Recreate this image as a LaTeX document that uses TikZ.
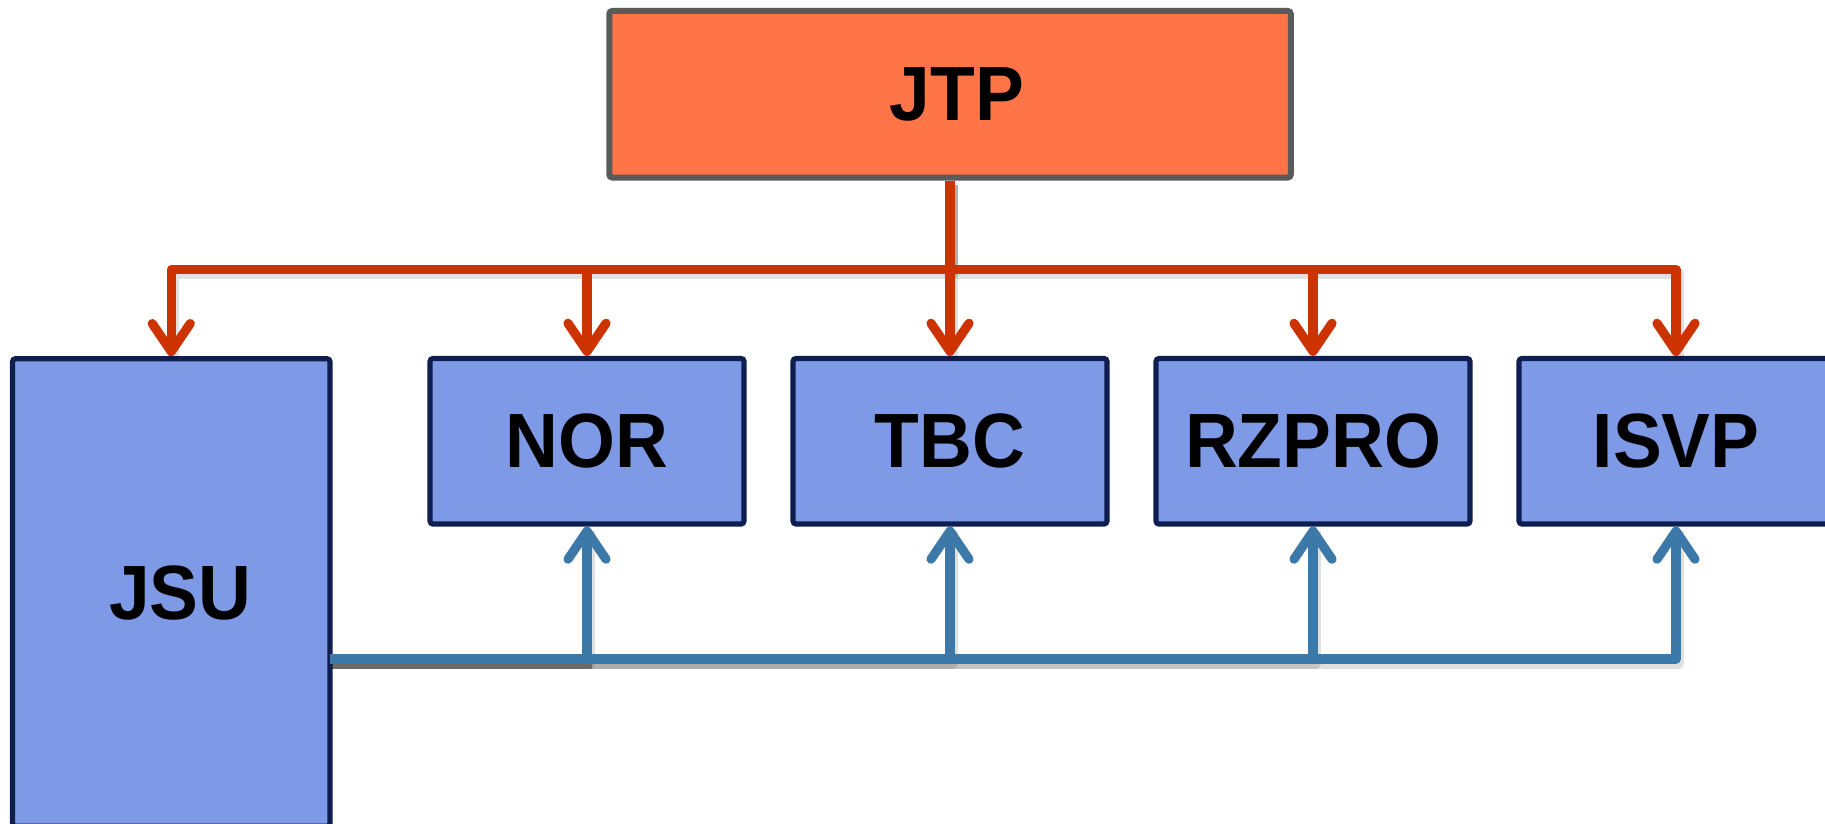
\documentclass[tikz,border=0pt]{standalone}
\usepackage{fontspec}
\setmainfont[FakeStretch=0.95]{Liberation Sans}
\usetikzlibrary{arrows.meta}
\definecolor{jtpfill}{RGB}{255,117,72}
\definecolor{jtpline}{RGB}{90,90,90}
\definecolor{boxfill}{RGB}{126,154,230}
\definecolor{boxline}{RGB}{14,30,80}
\definecolor{redline}{RGB}{204,51,0}
\definecolor{blueline}{RGB}{61,121,168}
\begin{document}
\begin{tikzpicture}[x=0.5pt,y=-0.5pt,
  lbl/.style={font=\fontsize{38.5}{46}\selectfont\bfseries, text=black},
  topbox/.style={lbl, draw=jtpline, fill=jtpfill, line width=3pt, rounded corners=1.5pt,
    minimum width=340.75pt, minimum height=83.25pt, inner sep=0pt},
  subbox/.style={lbl, draw=boxline, fill=boxfill, line width=2.6pt, rounded corners=1.5pt,
    minimum width=157pt, minimum height=82.75pt, inner sep=0pt},
  tallbox/.style={subbox, minimum width=158.75pt, minimum height=233.75pt},
  redconn/.style={draw=redline, line width=4.6pt, line join=round,
    -{Straight Barb[length=14pt,width=19pt,round]}},
  blueconn/.style={draw=blueline, line width=4.6pt, line join=round,
    -{Straight Barb[length=14pt,width=19pt,round]}},
  shade/.style={draw=black, line width=5.5pt, opacity=0.12, line join=round}
]
\useasboundingbox (0,0) rectangle (1825,824);
\clip (0,0) rectangle (1825,824);

% nodes
\node[topbox] (jtp) at (950,94.25) {\hspace*{7pt}JTP};
\node[tallbox] (jsu) at (171.25,592.5) {\hspace*{9pt}JSU};
\node[subbox] (nor) at (587,441.25) {NOR};
\node[subbox] (tbc) at (950,441.25) {TBC};
\node[subbox] (rzpro) at (1313,441.25) {RZPRO};
\node[subbox] (isvp) at (1676,441.25) {ISVP};

\coordinate (bstart) at (330,659);

% shadows of connectors
\begin{scope}[transform canvas={xshift=1pt,yshift=-2pt}]
  \draw[shade] (jtp.south) -- ++(0,89) -| (jsu.north);
  \draw[shade] (jtp.south) -- ++(0,89) -| (isvp.north);
  \draw[shade] (jtp.south) -- (tbc.north);
  \draw[shade] (bstart) -| (isvp.south);
  \draw[shade] (bstart) -| (nor.south);
  \draw[shade] (bstart) -| (tbc.south);
  \draw[shade] (bstart) -| (rzpro.south);
  \draw[shade, opacity=0.3] (bstart) -- ++(260,0);
\end{scope}

% red connectors from JTP
\draw[redconn] (jtp.south) -- ++(0,89) -| (jsu.north);
\draw[redconn] (jtp.south) -- ++(0,89) -| (nor.north);
\draw[redconn] (jtp.south) -- (tbc.north);
\draw[redconn] (jtp.south) -- ++(0,89) -| (rzpro.north);
\draw[redconn] (jtp.south) -- ++(0,89) -| (isvp.north);

% blue connectors from JSU
\draw[blueconn] (bstart) -| (nor.south);
\draw[blueconn] (bstart) -| (tbc.south);
\draw[blueconn] (bstart) -| (rzpro.south);
\draw[blueconn] (bstart) -| (isvp.south);
\end{tikzpicture}
\end{document}
